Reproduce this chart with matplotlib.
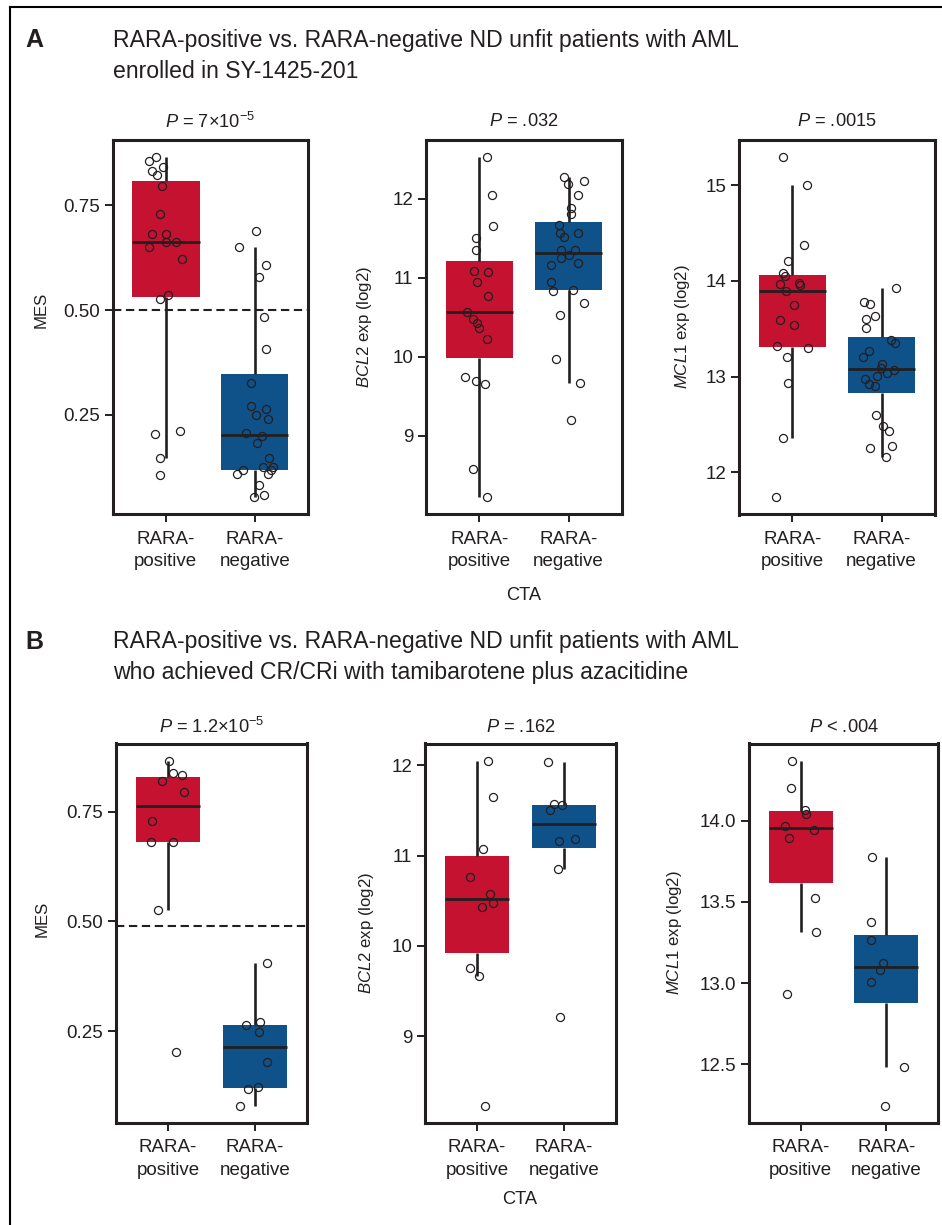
import numpy as np
import matplotlib
matplotlib.use("Agg")
import matplotlib.pyplot as plt
from matplotlib import font_manager as fm
from matplotlib.lines import Line2D

# ---------------- data ----------------
categories = ["RARA-\npositive", "RARA-\nnegative"]

# Panel A (SY-1425-201 enrolled)
a_mes_pos = [0.867, 0.856, 0.841, 0.833, 0.822, 0.797, 0.730, 0.682, 0.682, 0.662,
             0.662, 0.650, 0.623, 0.536, 0.527, 0.210, 0.204, 0.147, 0.105]
a_mes_pos_dx = [-0.105, -0.187, -0.030, -0.161, -0.097, -0.041, -0.064, -0.157, 0.004, 0.004,
                0.120, -0.187, 0.184, 0.030, -0.067, 0.154, -0.127, -0.071, -0.060]
a_mes_neg = [0.690, 0.650, 0.607, 0.578, 0.483, 0.406, 0.326, 0.271, 0.263, 0.249, 0.240, 0.206,
             0.198, 0.181, 0.147, 0.126, 0.124, 0.118, 0.117, 0.107, 0.107, 0.081, 0.059, 0.052]
a_mes_neg_dx = [0.019, -0.172, 0.124, 0.049, 0.109, 0.131, -0.037, -0.037, 0.124, 0.011, 0.150, -0.097,
                0.082, 0.022, 0.157, 0.202, 0.094, -0.131, 0.184, -0.195, 0.150, 0.045, 0.105, -0.011]

a_bcl2_pos = [12.533, 12.050, 11.652, 11.501, 11.350, 11.081, 11.077, 10.947, 10.766, 10.573,
              10.473, 10.426, 10.363, 10.225, 9.742, 9.692, 9.658, 8.580, 8.223]
a_bcl2_pos_dx = [0.088, 0.137, 0.148, -0.039, -0.039, -0.066, 0.092, -0.024, 0.099, -0.137,
                 -0.077, -0.028, -0.002, 0.084, -0.167, -0.036, 0.066, -0.077, 0.081]
a_bcl2_neg = [12.269, 12.227, 12.189, 12.042, 11.878, 11.803, 11.673, 11.568, 11.564, 11.513, 11.350, 11.350,
              11.283, 11.249, 11.190, 11.165, 10.943, 10.850, 10.833, 10.687, 10.531, 9.977, 9.667, 9.205]
a_bcl2_neg_dx = [-0.054, 0.170, -0.006, 0.110, 0.028, 0.028, -0.110, -0.099, 0.107, -0.054, -0.081, 0.073,
                 0.006, -0.088, 0.103, -0.200, -0.200, 0.047, -0.174, 0.170, -0.099, -0.144, 0.129, 0.028]

a_mcl1_pos = [15.299, 14.997, 14.372, 14.208, 14.080, 14.052, 13.965, 13.979, 13.955, 13.896,
              13.747, 13.594, 13.535, 13.316, 13.299, 13.205, 12.934, 12.354, 11.736]
a_mcl1_pos_dx = [-0.101, 0.165, 0.135, -0.052, -0.101, -0.079, -0.135, 0.075, 0.090, -0.071,
                 0.015, -0.139, 0.022, -0.169, 0.169, -0.060, -0.052, -0.101, -0.187]
a_mcl1_neg = [13.927, 13.778, 13.753, 13.635, 13.597, 13.507, 13.382, 13.347, 13.271, 13.208, 13.135, 13.090,
              13.073, 13.035, 13.010, 12.976, 12.924, 12.899, 12.594, 12.486, 12.427, 12.278, 12.253, 12.160]
a_mcl1_neg_dx = [0.161, -0.202, -0.131, -0.079, -0.169, -0.172, 0.101, 0.154, -0.139, -0.206, 0.007, -0.011,
                 0.135, 0.056, -0.056, -0.184, -0.139, -0.079, -0.067, 0.011, 0.086, 0.120, -0.127, 0.049]

# Panel B (CR/CRi responders)
b_mes_pos = [0.866, 0.839, 0.833, 0.821, 0.795, 0.729, 0.681, 0.680, 0.526, 0.203]
b_mes_pos_dx = [0.012, 0.054, 0.162, -0.065, 0.181, -0.188, -0.196, 0.054, -0.119, 0.096]
b_mes_neg = [0.406, 0.270, 0.263, 0.248, 0.180, 0.122, 0.118, 0.080]
b_mes_neg_dx = [0.140, 0.060, -0.106, 0.048, 0.144, 0.040, -0.083, -0.175]

b_bcl2_pos = [12.051, 11.647, 11.077, 10.765, 10.570, 10.478, 10.426, 9.750, 9.662, 8.228]
b_bcl2_pos_dx = [0.121, 0.186, 0.072, -0.076, 0.144, 0.182, 0.057, -0.080, 0.023, 0.087]
b_bcl2_neg = [12.037, 11.574, 11.559, 11.504, 11.188, 11.162, 10.846, 9.213]
b_bcl2_neg_dx = [-0.178, -0.117, -0.023, -0.163, 0.133, -0.057, -0.064, -0.049]

b_mcl1_pos = [14.370, 14.201, 14.069, 14.045, 13.970, 13.943, 13.892, 13.526, 13.315, 12.935]
b_mcl1_pos_dx = [-0.098, -0.113, 0.051, 0.059, -0.180, 0.156, -0.133, 0.168, 0.184, -0.156]
b_mcl1_neg = [13.776, 13.374, 13.268, 13.124, 13.081, 13.008, 12.482, 12.245]
b_mcl1_neg_dx = [-0.168, -0.184, -0.184, -0.039, -0.070, -0.176, 0.203, -0.012]

a_threshold = 0.50
b_threshold = 0.49

a_pvalues = [r"$\mathit{P}$ = 7×10$^{-5}$", r"$\mathit{P}$ = .032", r"$\mathit{P}$ = .0015"]
b_pvalues = [r"$\mathit{P}$ = 1.2×10$^{-5}$", r"$\mathit{P}$ = .162", r"$\mathit{P}$ < .004"]

mes_ticks = [0.25, 0.50, 0.75]
mes_ticklabels = ["0.25", "0.50", "0.75"]
bcl2_ticks = [9, 10, 11, 12]
a_mcl1_ticks = [12, 13, 14, 15]
b_mcl1_ticks = [12.5, 13.0, 13.5, 14.0]
b_mcl1_ticklabels = ["12.5", "13.0", "13.5", "14.0"]

ylabels = ["MES", r"$\mathit{BCL2}$ exp (log2)", r"$\mathit{MCL1}$ exp (log2)"]

title_a = "RARA-positive vs. RARA-negative ND unfit patients with AML\nenrolled in SY-1425-201"
title_b = "RARA-positive vs. RARA-negative ND unfit patients with AML\nwho achieved CR/CRi with tamibarotene plus azacitidine"

# ---------------- style ----------------
names = {f.name for f in fm.fontManager.ttflist}
SANS = "Liberation Sans" if "Liberation Sans" in names else "DejaVu Sans"
HAS_NARROW = "Liberation Sans Narrow" in names
NARROW = "Liberation Sans Narrow" if HAS_NARROW else SANS
NS = 1.0 if HAS_NARROW else 0.85

plt.rcParams["font.family"] = [SANS, "DejaVu Sans"]
plt.rcParams["mathtext.fontset"] = "custom"
plt.rcParams["mathtext.rm"] = NARROW
plt.rcParams["mathtext.it"] = NARROW + ":italic"
plt.rcParams["mathtext.bf"] = NARROW + ":bold"

RED = "#C41230"
BLUE = "#0F5189"
INK = "#231F20"

W, H = 942, 1225
fig = plt.figure(figsize=(W / 100, H / 100), dpi=100)
fig.patch.set_facecolor("white")


def fy(y):
    return 1 - y / H


def add_ax(l, r, t, b):
    return fig.add_axes([l / W, 1 - b / H, (r - l) / W, (b - t) / H])


def draw_panel(ax, pos, pos_dx, neg, neg_dx, width, ticks, ticklabels=None, threshold=None):
    bp = ax.boxplot([pos, neg], positions=[1, 2], widths=width, whis=1.5,
                    showfliers=False, showcaps=False, patch_artist=True,
                    medianprops=dict(color=INK, linewidth=2.0, solid_capstyle="butt"),
                    whiskerprops=dict(color=INK, linewidth=1.9, solid_capstyle="butt"),
                    boxprops=dict(linewidth=0))
    for patch, c in zip(bp["boxes"], [RED, BLUE]):
        patch.set_facecolor(c)
        patch.set_edgecolor("none")
    if threshold is not None:
        ax.axhline(threshold, color=INK, lw=1.5, ls=(0, (4, 2.2)), zorder=1.5)
    for i, (vals, dxs) in enumerate([(pos, pos_dx), (neg, neg_dx)]):
        xs = np.array(dxs) + (i + 1)
        ax.plot(xs, vals, "o", ms=5.8, mfc="none", mec=INK, mew=0.9, zorder=5)
    allv = np.array(list(pos) + list(neg))
    lo, hi = allv.min(), allv.max()
    pad = 0.05 * (hi - lo)
    ax.set_ylim(lo - pad, hi + pad)
    ax.set_xlim(0.4, 2.6)
    ax.set_yticks(ticks)
    if ticklabels is not None:
        ax.set_yticklabels(ticklabels)
    ax.set_xticks([1, 2])
    ax.set_xticklabels(categories, linespacing=1.4)
    for s in ax.spines.values():
        s.set_linewidth(2.2)
        s.set_color(INK)
    ax.tick_params(axis="both", direction="out", length=5.8, width=1.4, color=INK,
                   labelcolor=INK, labelsize=13.5)
    ax.tick_params(axis="x", pad=6.0)
    ax.tick_params(axis="y", pad=3.5)
    ax.set_facecolor("white")


# ---------------- panel A ----------------
axA = [add_ax(112.5, 308, 139.5, 514.5), add_ax(426, 622, 139.5, 514.5), add_ax(739, 935, 139.5, 514.5)]
draw_panel(axA[0], a_mes_pos, a_mes_pos_dx, a_mes_neg, a_mes_neg_dx, 0.76, mes_ticks, mes_ticklabels, a_threshold)
draw_panel(axA[1], a_bcl2_pos, a_bcl2_pos_dx, a_bcl2_neg, a_bcl2_neg_dx, 0.76, bcl2_ticks)
draw_panel(axA[2], a_mcl1_pos, a_mcl1_pos_dx, a_mcl1_neg, a_mcl1_neg_dx, 0.76, a_mcl1_ticks)

# ---------------- panel B ----------------
axB = [add_ax(116, 307, 743.5, 1123), add_ax(425, 616, 743.5, 1123), add_ax(749, 938, 743.5, 1123)]
draw_panel(axB[0], b_mes_pos, b_mes_pos_dx, b_mes_neg, b_mes_neg_dx, 0.745, mes_ticks, mes_ticklabels, b_threshold)
draw_panel(axB[1], b_bcl2_pos, b_bcl2_pos_dx, b_bcl2_neg, b_bcl2_neg_dx, 0.745, bcl2_ticks)
draw_panel(axB[2], b_mcl1_pos, b_mcl1_pos_dx, b_mcl1_neg, b_mcl1_neg_dx, 0.745, b_mcl1_ticks, b_mcl1_ticklabels)

# P-values above panels
for axes, labels, ypx in [(axA, a_pvalues, 122), (axB, b_pvalues, 727)]:
    for ax, lab in zip(axes, labels):
        bb = ax.get_position()
        fig.text((bb.x0 + bb.x1) / 2, fy(ypx), lab, ha="center", va="center",
                 fontsize=15.5 * NS, family=[NARROW, "DejaVu Sans"], color=INK)

# y-axis labels
ylab_pos_A = [(41, 310), (364, 327), (682, 327)]
ylab_pos_B = [(42, 919), (366, 933), (675, 933)]
for pts in [ylab_pos_A, ylab_pos_B]:
    for (xp, yp), lab in zip(pts, ylabels):
        fig.text(xp / W, fy(yp), lab, rotation=90, ha="center", va="center",
                 fontsize=14.2 * NS, family=[NARROW, "DejaVu Sans"], color=INK)

# x-axis "CTA" labels
fig.text(524 / W, fy(595), "CTA", ha="center", va="center", fontsize=15.5 * NS,
         family=[NARROW, "DejaVu Sans"], color=INK)
fig.text(520 / W, fy(1200), "CTA", ha="center", va="center", fontsize=15.5 * NS,
         family=[NARROW, "DejaVu Sans"], color=INK)

# Panel letters and titles
fig.text(25 / W, fy(40), "A", ha="left", va="center", fontsize=18, fontweight="bold", color=INK)
fig.text(25 / W, fy(642), "B", ha="left", va="center", fontsize=18, fontweight="bold", color=INK)
fig.text(113 / W, fy(56), title_a, ha="left", va="center", fontsize=16.6, color=INK, linespacing=1.42)
fig.text(113 / W, fy(657), title_b, ha="left", va="center", fontsize=16.6, color=INK, linespacing=1.42)

# Figure border (top and left)
fig.add_artist(Line2D([10 / W, 10 / W], [0, fy(7)], color="black", lw=1.5, transform=fig.transFigure))
fig.add_artist(Line2D([10 / W, 1], [fy(7), fy(7)], color="black", lw=1.5, transform=fig.transFigure))

fig.savefig("out.png", dpi=100, facecolor="white")
